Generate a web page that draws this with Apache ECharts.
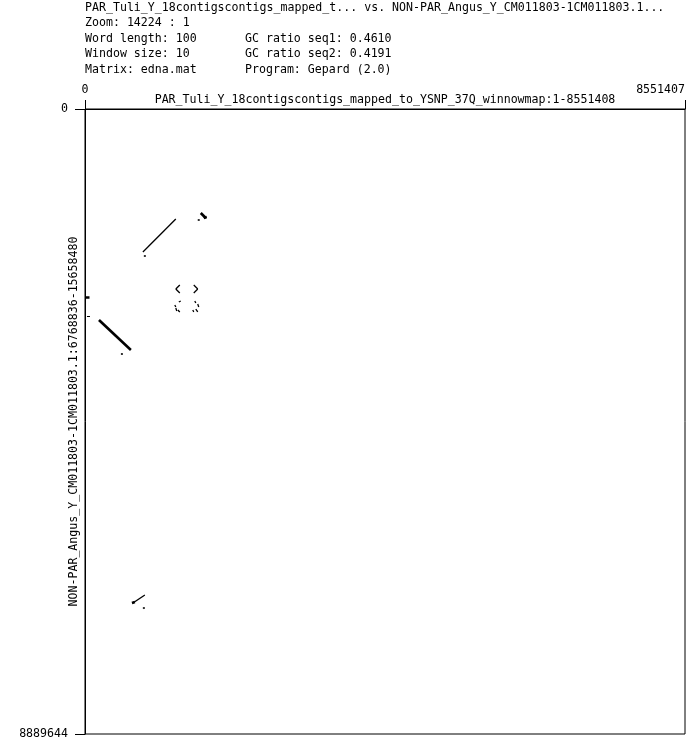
<!DOCTYPE html>
<html>
<head>
<meta charset="utf-8">
<script src="https://cdn.jsdelivr.net/npm/echarts@6/dist/echarts.min.js"></script>
<style>html,body{margin:0;padding:0;background:#fff}#c{width:691px;height:739px}</style>
</head>
<body>
<div id="c"></div>
<script>
// ---- data (sequence coordinates in bp) ----
const xName = 'PAR_Tuli_Y_18contigscontigs_mapped_to_YSNP_37Q_winnowmap:1-8551408';
const yName = 'NON-PAR_Angus_Y_CM011803-1CM011803.1:6768836-15658480';
const xTicks = [0, 8551407];
const yTicks = [0, 8889644];
const headerLeft = [
  'PAR_Tuli_Y_18contigscontigs_mapped_t... vs. NON-PAR_Angus_Y_CM011803-1CM011803.1...',
  'Zoom: 14224 : 1',
  'Word length: 100',
  'Window size: 10',
  'Matrix: edna.mat'
];
const headerRight = ['', '', 'GC ratio seq1: 0.4610', 'GC ratio seq2: 0.4191', 'Program: Gepard (2.0)'];
// thin match segments [x1, y1, x2, y2]
const thinSegs = [
  [825000, 2034000, 1294000, 1565000],
  [1351000, 2503000, 1294000, 2560000],
  [1294000, 2560000, 1351000, 2617000],
  [1550000, 2503000, 1607000, 2560000],
  [1607000, 2560000, 1550000, 2617000],
  [1337000, 2745000, 1365000, 2731000],
  [1280000, 2788000, 1294000, 2816000],
  [1294000, 2830000, 1308000, 2873000],
  [1323000, 2859000, 1351000, 2887000],
  [1565000, 2731000, 1579000, 2759000],
  [1607000, 2774000, 1621000, 2816000],
  [1579000, 2845000, 1607000, 2887000],
  [1536000, 2859000, 1550000, 2887000],
  [683000, 7027000, 853000, 6913000]
];
// thick match segments [x1, y1, x2, y2]
const thickSegs = [
  [199000, 3001000, 654000, 3428000],
  [14000, 2674000, 64000, 2674000],
  [1650000, 1479000, 1721000, 1550000],
  [1693000, 1550000, 1735000, 1536000],
  [669000, 7027000, 711000, 7013000]
];
const thinDash = [[28000, 2944000, 71000, 2944000]];
const dots = [
  [853000, 2091000],
  [526000, 3485000],
  [1621000, 1579000],
  [839000, 7098000]
];

const FONT = 'DejaVu Sans Mono';
const FS = 11.6;
const chart = echarts.init(document.getElementById('c'), null, {renderer: 'canvas'});
const toLines = (arr) => arr.map(s => ({coords: [[s[0], s[1]], [s[2], s[3]]]}));
const graphics = [];
const lineY = [7, 22, 38, 53, 69];
headerLeft.forEach((t, i) => graphics.push({type: 'text', left: 85, top: lineY[i] - 5, style: {text: t, font: FS + 'px "' + FONT + '"', fill: '#000'}}));
headerRight.forEach((t, i) => { if (t) graphics.push({type: 'text', left: 245, top: lineY[i] - 5, style: {text: t, font: FS + 'px "' + FONT + '"', fill: '#000'}}); });

chart.setOption({
  animation: false,
  backgroundColor: '#fff',
  graphic: graphics,
  grid: {left: 85, top: 109, width: 600, height: 625, show: true, borderColor: '#000', borderWidth: 1, containLabel: false, outerBoundsMode: 'none'},
  xAxis: {
    type: 'value', position: 'top', min: xTicks[0], max: xTicks[1],
    name: xName, nameLocation: 'middle', nameGap: 3, nameMoveOverlap: false,
    nameTextStyle: {fontFamily: FONT, fontSize: FS, color: '#000'},
    splitLine: {show: false},
    axisLine: {show: true, lineStyle: {color: '#000', width: 1}},
    axisTick: {show: true, length: 9, lineStyle: {color: '#000'}, customValues: xTicks},
    axisLabel: {show: true, customValues: xTicks, margin: 13, formatter: v => String(v), fontFamily: FONT, fontSize: FS, color: '#000', alignMaxLabel: 'right', alignMinLabel: 'center', padding: [0, 0, 0, 0]}
  },
  yAxis: {
    type: 'value', inverse: true, min: yTicks[0], max: yTicks[1],
    name: yName, nameLocation: 'middle', nameGap: 5, nameRotate: 90, nameMoveOverlap: false,
    nameTextStyle: {fontFamily: FONT, fontSize: FS, color: '#000'},
    splitLine: {show: false},
    axisLine: {show: true, lineStyle: {color: '#000', width: 1}},
    axisTick: {show: true, length: 10, lineStyle: {color: '#000'}, customValues: yTicks},
    axisLabel: {show: true, customValues: yTicks, margin: 17, formatter: v => String(v), fontFamily: FONT, fontSize: FS, color: '#000'}
  },
  series: [
    {type: 'lines', coordinateSystem: 'cartesian2d', polyline: false, data: toLines(thinSegs), lineStyle: {color: '#000', width: 1.3, opacity: 1}},
    {type: 'lines', coordinateSystem: 'cartesian2d', polyline: false, data: toLines(thickSegs), lineStyle: {color: '#000', width: 2.6, opacity: 1}},
    {type: 'lines', coordinateSystem: 'cartesian2d', polyline: false, data: toLines(thinDash), lineStyle: {color: '#000', width: 1.2, opacity: 1}},
    {type: 'scatter', data: dots, symbol: 'rect', symbolSize: 2, itemStyle: {color: '#000'}}
  ]
});
</script>
</body>
</html>
